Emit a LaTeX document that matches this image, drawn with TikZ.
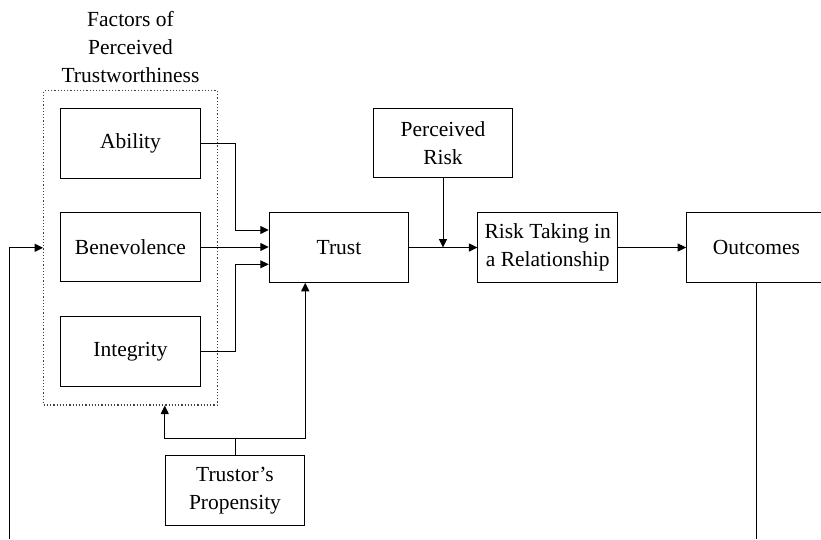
\documentclass[tikz,border=0pt]{standalone}
\usepackage{fontspec}
\setmainfont{Liberation Serif}
\usetikzlibrary{arrows.meta}
\begin{document}
\begin{tikzpicture}[x=1pt,y=-1pt,
  box/.style={draw,line width=1pt,minimum width=139.5pt,minimum height=69.5pt,inner sep=1pt,align=center,font=\fontsize{21.5}{28}\selectfont},
  conn/.style={line width=1pt},
  arr/.style={conn,-{Triangle[length=8.5pt,width=8pt]}},
  arrboth/.style={conn,{Triangle[length=8.5pt,width=8pt]}-{Triangle[length=8.5pt,width=8pt]}},
  factbox/.style={draw=black!75,dotted,line width=1.2pt,minimum width=173.6pt,minimum height=314.3pt,inner sep=0pt},
  titletext/.style={align=center,inner sep=0pt,font=\fontsize{21.5}{28}\selectfont}]
\useasboundingbox (0,0) rectangle (821,539);
\clip (0,0) rectangle (821,539);
\node[titletext] (title) at (130.5,47.5) {Factors of\\Perceived\\Trustworthiness};
\node[factbox] (fac) at (130.5,247.8) {};
\node[box] (ab) at (130.5,143.3) {Ability};
\node[box] (be) at (130.5,247) {Benevolence};
\node[box] (in) at (130.5,351.5) {Integrity};
\node[box] (tr) at (339,247.5) {Trust};
\node[box] (pr) at (443,143.2) {Perceived\\Risk};
\node[box] (rt) at (547.7,247.5) {Risk Taking in\\a Relationship};
\node[box] (out) at (756.4,247.5) {Outcomes};
\node[box] (prop) at (235,490.3) {Trustor’s\\Propensity};
\coordinate (bend) at (235.7,0);
\coordinate (fb) at (9.5,539);
\coordinate (j) at ([yshift=16.7pt]prop.north);
% factors to trust
\draw[arr] (ab.east) -| (bend |- 0,230) -- ([yshift=17.5pt]tr.west);
\draw[arr] (be.east) -- (be.east -| tr.west);
\draw[arr] (in.east) -| (bend |- 0,264.3) -- ([yshift=-16.8pt]tr.west);
% trust chain
\draw[arr] (tr.east) -- (rt.west);
\draw[arr] (pr.south) -- (pr.south |- tr.east);
\draw[arr] (rt.east) -- (out.west);
% propensity
\draw[conn] (prop.north) -- (j);
\draw[arrboth] (prop.west |- fac.south) -- (prop.west |- j) -- (prop.east |- j) -- (prop.east |- tr.south);
% feedback
\draw[conn] (out.south) -- (out.south |- fb);
\draw[arr] (fb) |- (fac.west);
\end{tikzpicture}
\end{document}
